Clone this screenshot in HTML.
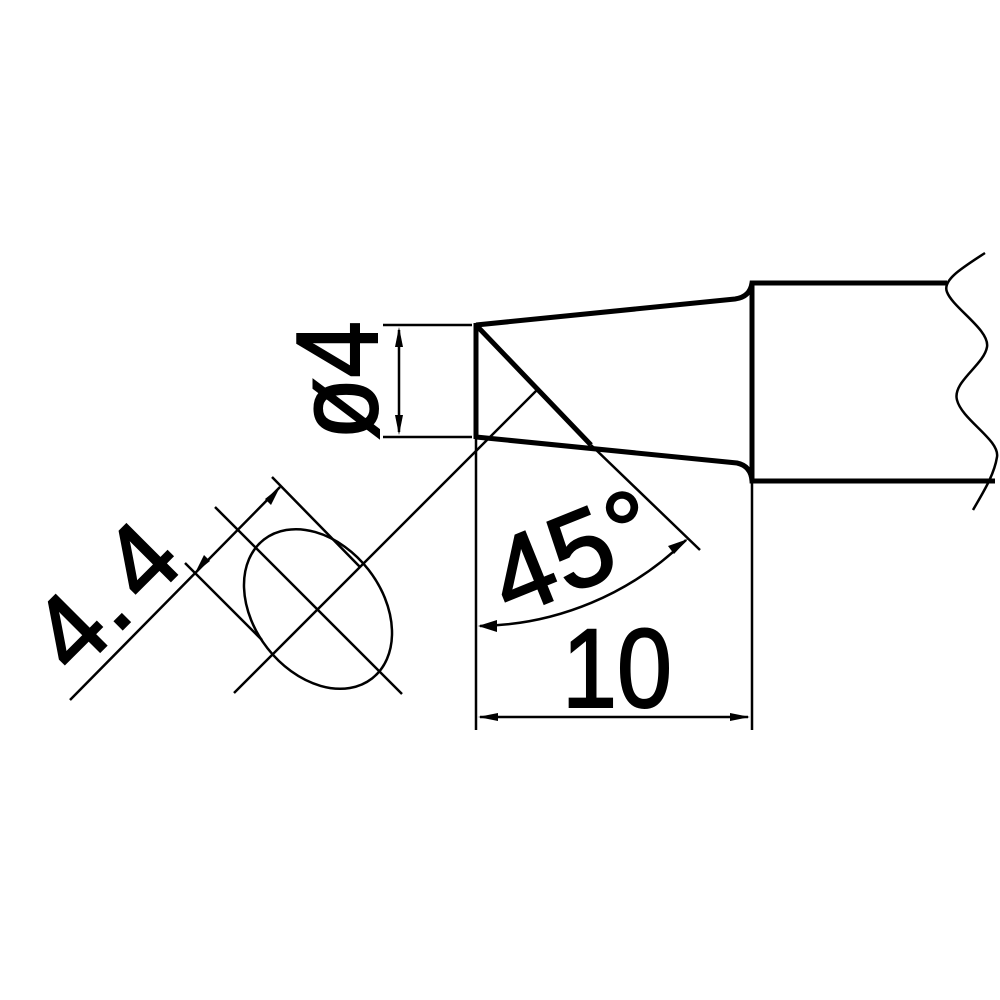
<!DOCTYPE html>
<html><head><meta charset="utf-8"><style>html,body{margin:0;padding:0;background:#fff}svg{display:block}</style></head>
<body>
<svg width="1000" height="1000" viewBox="0 0 1000 1000" xmlns="http://www.w3.org/2000/svg">
<rect width="1000" height="1000" fill="#fff"/>
<g fill="none" stroke="#000" stroke-linecap="butt">
  <path d="M476,325 L735,299 Q750,297 752,283 L947,283" stroke-width="5"/>
  <path d="M476,437 L737,463 Q751,466 752,481 L995,481" stroke-width="5"/>
  <line x1="752" y1="283" x2="752" y2="481" stroke-width="5"/>
  <line x1="476" y1="323" x2="476" y2="439" stroke-width="5"/>
  <line x1="476" y1="325" x2="591" y2="445" stroke-width="5"/>
  <path d="M985,253 C962,268 942,280 947,292 C953,308 990,330 987,347 C984,365 952,382 957,400 C962,420 1000,440 997,457 C994,476 982,494 973,510" stroke-width="2.5"/>
  <line x1="591" y1="445" x2="700" y2="550" stroke-width="2.5"/>
  <line x1="476" y1="437" x2="476" y2="730" stroke-width="2.5"/>
  <line x1="752" y1="481" x2="752" y2="730" stroke-width="2.5"/>
  <line x1="383" y1="325" x2="472" y2="325" stroke-width="2.5"/>
  <line x1="383" y1="437" x2="472" y2="437" stroke-width="2.5"/>
  <line x1="399" y1="330" x2="399" y2="432" stroke-width="2.5"/>
  <line x1="480" y1="717" x2="748" y2="717" stroke-width="2.5"/>
  <path d="M480,626 A301,301 0 0 0 686,540" stroke-width="2.5"/>
  <ellipse cx="0" cy="0" rx="88" ry="64" transform="translate(318,609) rotate(52)" stroke-width="2.5"/>
  <line x1="537" y1="390" x2="234" y2="693" stroke-width="2.5"/>
  <line x1="215" y1="507" x2="402" y2="694" stroke-width="2.5"/>
  <line x1="272" y1="477" x2="360" y2="567" stroke-width="2.5"/>
  <line x1="185" y1="563" x2="262" y2="640" stroke-width="2.5"/>
  <line x1="70" y1="700" x2="280" y2="487" stroke-width="2.5"/>
</g>
<g fill="#000">
  <polygon points="399,327 395,347 403,347"/>
  <polygon points="399,435 395,415 403,415"/>
  <polygon points="478,717 498,713 498,721"/>
  <polygon points="750,717 730,713 730,721"/>
  <polygon points="478,626 497,620 497,632"/>
  <polygon points="688,539 674,554 668,546"/>
  <polygon points="280,487 271,505 265,499"/>
  <polygon points="195,573 204,555 210,561"/>
</g>
<g font-family="'Liberation Sans', Arial, sans-serif" fill="#000" stroke="#000" stroke-width="2">
  <text transform="translate(377,440) rotate(-90)" font-size="116" textLength="119" lengthAdjust="spacingAndGlyphs">ø4</text>
  <text x="562" y="707" font-size="112" textLength="110" lengthAdjust="spacingAndGlyphs">10</text>
  <g transform="translate(555,565) rotate(-22)">
    <text x="-62" y="32" font-size="108" letter-spacing="2">45°</text>
  </g>
  <g transform="translate(105,596) rotate(-45)" font-size="104">
    <text x="-50" y="36" text-anchor="middle">4</text>
    <text x="-6" y="36" text-anchor="middle">.</text>
    <text x="50" y="36" text-anchor="middle">4</text>
  </g>
</g>
</svg>
</body></html>
